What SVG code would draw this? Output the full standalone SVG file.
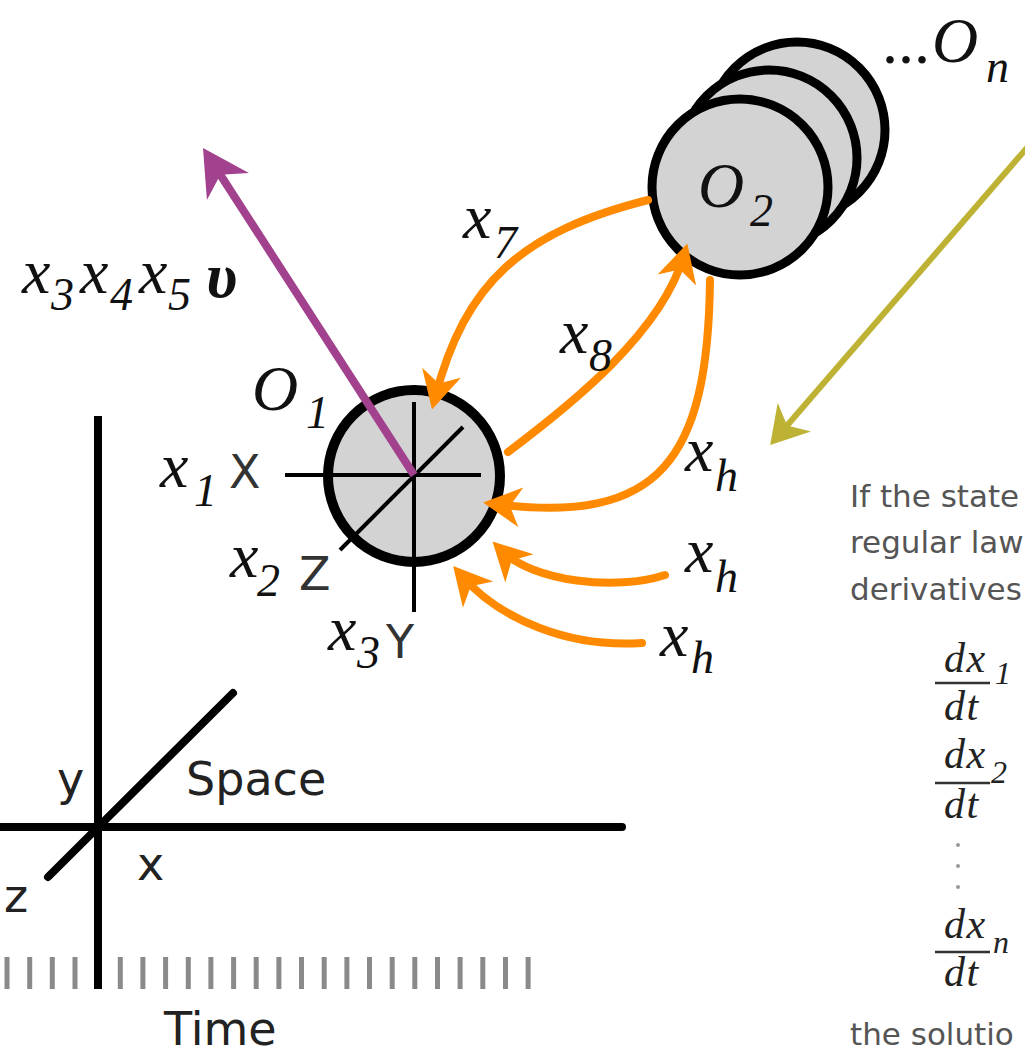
<svg xmlns="http://www.w3.org/2000/svg" width="1025" height="1054" viewBox="0 0 1025 1054">
<style>
.m{font-family:"Liberation Serif",serif;font-style:italic;font-size:64px;fill:#111}
.sub{font-size:46px}
.ax{font-family:"DejaVu Sans",sans-serif;font-size:46px;fill:#222}
.lbl{font-family:"DejaVu Sans",sans-serif;font-size:46px;fill:#333}
.body{font-family:"DejaVu Sans",sans-serif;font-size:31px;fill:#555}
.eq{font-family:"Liberation Serif",serif;font-style:italic;font-size:42px;fill:#222;letter-spacing:1.5px}
.eqs{font-size:32px;letter-spacing:0}
.node{fill:#d3d3d3;stroke:#000;stroke-width:10}
.cross{stroke:#000;stroke-width:4;fill:none}
.axis{stroke:#000;stroke-width:8;fill:none;stroke-linecap:round}
.tick{fill:#8a8a8a}
.bar{stroke:#333;stroke-width:2.5}
.or{fill:none;stroke:#ff8a00;stroke-width:8;stroke-linecap:round;marker-end:url(#ao)}
</style>
<defs>
<marker id="ao" markerUnits="userSpaceOnUse" viewBox="-30 -24 44 48" markerWidth="44" markerHeight="48" refX="0" refY="0" orient="auto" overflow="visible">
<path d="M12,0 L-26,-20 L-15,0 L-26,20 Z" fill="#ff8a00"/>
</marker>
<marker id="ap" markerUnits="userSpaceOnUse" viewBox="-40 -28 54 56" markerWidth="54" markerHeight="56" refX="0" refY="0" orient="auto" overflow="visible">
<path d="M12,0 L-34,-25 L-20,0 L-34,25 Z" fill="#a2418e"/>
</marker>
<marker id="ay" markerUnits="userSpaceOnUse" viewBox="-30 -24 44 48" markerWidth="44" markerHeight="48" refX="0" refY="0" orient="auto" overflow="visible">
<path d="M12,0 L-25,-22 L-14,0 L-25,22 Z" fill="#bdb234"/>
</marker>
</defs>
<rect width="1025" height="1054" fill="#fff"/>

<g id="space-time">
<g id="ticks">
<rect class="tick" x="4.5" y="957" width="5" height="32"/>
<rect class="tick" x="27.2" y="957" width="5" height="32"/>
<rect class="tick" x="49.8" y="957" width="5" height="32"/>
<rect class="tick" x="72.5" y="957" width="5" height="32"/>
<rect class="tick" x="117.8" y="957" width="5" height="32"/>
<rect class="tick" x="140.4" y="957" width="5" height="32"/>
<rect class="tick" x="163.1" y="957" width="5" height="32"/>
<rect class="tick" x="185.8" y="957" width="5" height="32"/>
<rect class="tick" x="208.4" y="957" width="5" height="32"/>
<rect class="tick" x="231.1" y="957" width="5" height="32"/>
<rect class="tick" x="253.7" y="957" width="5" height="32"/>
<rect class="tick" x="276.4" y="957" width="5" height="32"/>
<rect class="tick" x="299" y="957" width="5" height="32"/>
<rect class="tick" x="321.7" y="957" width="5" height="32"/>
<rect class="tick" x="344.4" y="957" width="5" height="32"/>
<rect class="tick" x="367" y="957" width="5" height="32"/>
<rect class="tick" x="389.7" y="957" width="5" height="32"/>
<rect class="tick" x="412.3" y="957" width="5" height="32"/>
<rect class="tick" x="435" y="957" width="5" height="32"/>
<rect class="tick" x="457.6" y="957" width="5" height="32"/>
<rect class="tick" x="480.3" y="957" width="5" height="32"/>
<rect class="tick" x="503" y="957" width="5" height="32"/>
<rect class="tick" x="525.6" y="957" width="5" height="32"/>
</g>
<line class="axis" x1="98" y1="416" x2="98" y2="989" style="stroke-linecap:butt"/>
<line class="axis" x1="0" y1="827" x2="622" y2="827"/>
<line class="axis" x1="48" y1="877" x2="233" y2="693"/>
<text class="ax" x="57" y="795">y</text>
<text class="ax" x="186" y="795">Space</text>
<text class="ax" x="137" y="880">x</text>
<text class="ax" x="4" y="912">z</text>
<text class="ax" x="164" y="1045">Time</text>
</g>

<g id="node-On">
<circle class="node" cx="797" cy="130" r="88" style="stroke-width:9"/>
<circle class="node" cx="769" cy="158" r="88" style="stroke-width:9"/>
<text class="m" x="882" y="63" style="font-style:normal">...</text>
<text class="m" x="932" y="62">O</text>
<text class="m sub" x="986" y="82">n</text>
</g>

<g id="node-O2">
<circle class="node" cx="740" cy="187" r="88" style="stroke-width:9"/>
<text class="m" x="698" y="207">O</text>
<text class="m sub" x="750" y="226">2</text>
</g>

<g id="node-O1">
<circle class="node" cx="414" cy="476" r="86"/>
<line class="cross" x1="285" y1="475" x2="481" y2="475"/>
<line class="cross" x1="414" y1="402" x2="414" y2="612"/>
<line class="cross" x1="463" y1="427" x2="340" y2="550"/>
<text class="m" x="252" y="410">O</text>
<text class="m sub" x="306" y="428">1</text>
<text class="m" x="160" y="487">x</text>
<text class="m sub" x="194" y="506">1</text>
<text class="lbl" x="229" y="488">X</text>
<text class="m" x="230" y="577">x</text>
<text class="m sub" x="257" y="596">2</text>
<text class="lbl" x="299" y="590">Z</text>
<text class="m" x="328" y="650">x</text>
<text class="m sub" x="357" y="668">3</text>
<text class="lbl" x="386" y="658">Y</text>
</g>

<g id="connectors">
<line x1="414" y1="475" x2="209.5" y2="158" stroke="#a2418e" stroke-width="8" marker-end="url(#ap)"/>
<path class="or" d="M648,200 C522,232 465,282 435,398"/>
<path class="or" d="M508,452 C572,404 662,332 684,255"/>
<path class="or" d="M710,280 C708,460 660,525 495,504"/>
<path class="or" d="M665,575 C617,591 533,582 501,550"/>
<path class="or" d="M642,643 C570,648 500,620 461,575"/>
<line x1="1032" y1="142" x2="778" y2="436" stroke="#bdb234" stroke-width="6" marker-end="url(#ay)"/>
</g>

<g id="labels">
<text class="m" x="22" y="293">x</text>
<text class="m sub" x="51" y="310">3</text>
<text class="m" x="80" y="293">x</text>
<text class="m sub" x="110" y="310">4</text>
<text class="m" x="139" y="293">x</text>
<text class="m sub" x="168" y="310">5</text>
<text class="m" x="206" y="297" style="font-weight:bold">υ</text>
<text class="m" x="463" y="238">x</text>
<text class="m sub" x="494" y="258">7</text>
<text class="m" x="560" y="353">x</text>
<text class="m sub" x="589" y="371">8</text>
<text class="m" x="685" y="471">x</text>
<text class="m sub" x="715" y="491">h</text>
<text class="m" x="685" y="572">x</text>
<text class="m sub" x="715" y="592">h</text>
<text class="m" x="660" y="656">x</text>
<text class="m sub" x="691" y="673">h</text>
</g>

<g id="text-panel">
<text class="body" x="850" y="507">If the state</text>
<text class="body" x="850" y="553">regular law</text>
<text class="body" x="850" y="600">derivatives</text>
<text class="eq" x="944" y="672">dx</text>
<line class="bar" x1="935" y1="683" x2="990" y2="683"/>
<text class="eq" x="944" y="720">dt</text>
<text class="eq eqs" x="995" y="684">1</text>
<text class="eq" x="944" y="768">dx</text>
<line class="bar" x1="935" y1="783" x2="990" y2="783"/>
<text class="eq" x="944" y="818">dt</text>
<text class="eq eqs" x="991" y="783">2</text>
<circle cx="958" cy="845" r="2" fill="#999"/>
<circle cx="958" cy="866" r="2" fill="#999"/>
<circle cx="958" cy="887" r="2" fill="#999"/>
<text class="eq" x="944" y="938">dx</text>
<line class="bar" x1="935" y1="952" x2="990" y2="952"/>
<text class="eq" x="944" y="986">dt</text>
<text class="eq eqs" x="993" y="953">n</text>
<text class="body" x="850" y="1045">the solutio</text>
</g>
</svg>
